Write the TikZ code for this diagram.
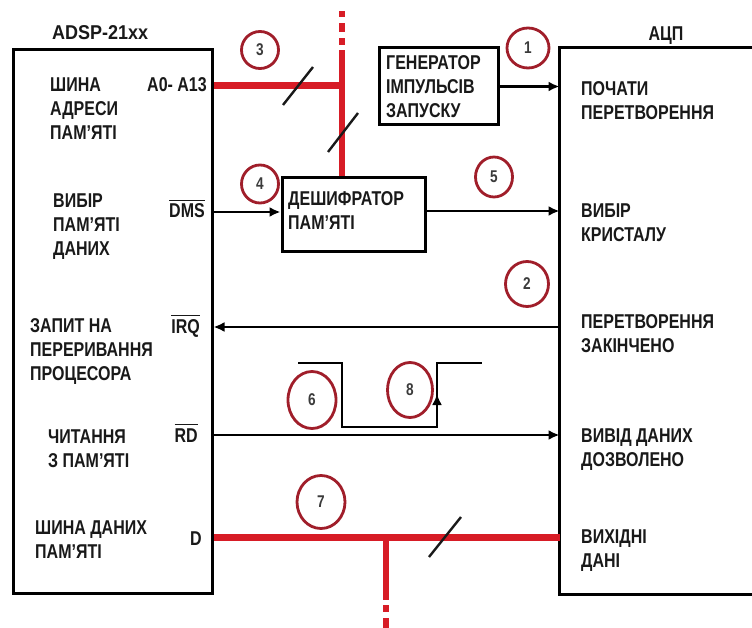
\documentclass[tikz,border=0pt]{standalone}
\usepackage{fontspec}
\setmainfont{Liberation Sans}[FakeStretch=0.8]
\newfontfamily\widelat{Liberation Sans}[FakeStretch=0.9]
\usetikzlibrary{shapes.geometric,arrows.meta}
\definecolor{busred}{RGB}{215,28,38}
\definecolor{ringred}{RGB}{160,30,42}
\definecolor{ink}{RGB}{25,25,25}
\newcommand\myovl[1]{\leavevmode\setbox0=\hbox{#1}\rlap{\raise\dimexpr\ht0+3pt\relax\hbox{\rule{\wd0}{1.3pt}}}\box0}
\begin{document}
\begin{tikzpicture}[x=1pt,y=-1pt,
 lbl/.style={font=\fontsize{20}{24}\selectfont\bfseries, inner sep=0, align=left, text=ink},
 box/.style={draw=black, line width=3pt, inner sep=0},
 arr/.style={draw=black, line width=2.6pt, -{Latex[length=11pt,width=10pt]}},
 bus/.style={draw=busred, line width=7pt},
 vbus/.style={draw=busred, line width=5.5pt},
 ring/.style={ellipse, draw=ringred, line width=2.8pt, inner sep=0, font=\fontsize{17}{17}\selectfont\bfseries, text=ink!85},
 tick/.style={draw=ink, line width=2.4pt},
 wave/.style={draw=black, line width=2.4pt}]
\useasboundingbox[fill=white] (0,0) rectangle (752,628);

% boxes
\node[box, minimum width=199pt, minimum height=543pt] (adsp) at (112.5,321.5) {};
\node[inner sep=0, outer sep=1.5pt, minimum width=191pt, minimum height=544pt] (adc) at (656.5,321) {};
\draw[line width=3pt] (adc.north east) -- (adc.north west) -- (adc.south west) -- (adc.south east);
\node[box, minimum width=119pt, minimum height=77pt] (gen) at (438.5,86.5) {};
\node[box, minimum width=143pt, minimum height=74pt] (dec) at (353.5,215) {};

% pin levels
\coordinate (yA) at (0,86);
\coordinate (yM) at (0,212);
\coordinate (yC) at (0,211);
\coordinate (yI) at (0,327);
\coordinate (yR) at (0,435);
\coordinate (yD) at (0,537);

% buses
\coordinate (ajn) at (342,86);
\coordinate (atopS) at (342,50);
\coordinate (atop) at (342,8);
\draw[bus] (adsp.east |- yA) -- (ajn);
\draw[vbus] (dec.north -| ajn) -- (atopS);
\draw[vbus, dash pattern=on 0pt off 5pt on 7pt off 6pt on 9pt off 6pt on 6pt off 30pt] (atopS) -- (atop);
\coordinate (djn) at (386,537);
\coordinate (dbotS) at (386,600);
\coordinate (dbot) at (386,630);
\draw[bus] (adsp.east |- yD) -- (adc.west |- yD);
\draw[vbus] (djn) -- (dbotS);
\draw[vbus, dash pattern=on 0pt off 5pt on 7pt off 6pt on 20pt] (dbotS) -- (dbot);

% bus ticks
\draw[tick] (283,105) -- (313,67);
\draw[tick] (328,152) -- (358,113);
\draw[tick] (429,557) -- (461,517);

% signal arrows
\draw[arr] (gen.east) -- (gen.east -| adc.west);
\draw[arr] (adsp.east |- yM) -- (dec.west |- yM);
\draw[arr] (dec.east |- yC) -- (adc.west |- yC);
\draw[arr] (adc.west |- yI) -- (adsp.east |- yI);
\draw[arr] (adsp.east |- yR) -- (adc.west |- yR);

% waveform
\coordinate (w0) at (298,363);
\coordinate (w1) at (342,363);
\coordinate (w2) at (342,427);
\coordinate (w3) at (437,427);
\coordinate (w4) at (437,394);
\coordinate (w5) at (437,363);
\coordinate (w6) at (482,363);
\draw[wave] (w0) -- (w1) -- (w2) -- (w3) -- (w5) -- (w6);
\draw[wave, -{Latex[length=11pt,width=10pt]}] (w3) -- (w4);

% rings
\node[ring, minimum width=42pt, minimum height=40pt] (c1) at (528,48) {1};
\node[ring, minimum width=43pt, minimum height=45pt] (c2) at (527,284) {2};
\node[ring, minimum width=37pt, minimum height=37pt] (c3) at (260,50) {3};
\node[ring, minimum width=37pt, minimum height=38pt] (c4) at (260,184) {4};
\node[ring, minimum width=37pt, minimum height=40pt] (c5) at (494,177) {5};
\node[ring, minimum width=48pt, minimum height=57pt] (c6) at (312,400) {6};
\node[ring, minimum width=48pt, minimum height=53pt] (c7) at (321,502) {7};
\node[ring, minimum width=45pt, minimum height=55pt] (c8) at (410,390) {8};

% titles
\node[lbl, anchor=base west] (tAdsp) at (52,40) {\widelat ADSP-21xx};
\node[lbl, anchor=base] (tAdc) at (666,41) {АЦП};

% left box labels (anchor = baseline of last line)
\node[lbl, anchor=base west] (l1) at (50,140) {ШИНА\\АДРЕСИ\\ПАМ'ЯТІ};
\node[lbl, anchor=base east] (p1) at (207,92) {A0- A13};
\node[lbl, anchor=base west] (l2) at (53,256) {ВИБІР\\ПАМ'ЯТІ\\ДАНИХ};
\node[lbl, anchor=base east] (p2) at (205,218) {\myovl{DMS}};
\node[lbl, anchor=base west] (l3) at (30,380) {ЗАПИТ НА\\ПЕРЕРИВАННЯ\\ПРОЦЕСОРА};
\node[lbl, anchor=base east] (p3) at (200,333) {\myovl{IRQ}};
\node[lbl, anchor=base west] (l4) at (48,467) {ЧИТАННЯ\\З ПАМ'ЯТІ};
\node[lbl, anchor=base east] (p4) at (198,442) {\myovl{RD}};
\node[lbl, anchor=base west] (l5) at (35,558) {ШИНА ДАНИХ\\ПАМ'ЯТІ};
\node[lbl, anchor=base east] (p5) at (202,545) {D};

% right box labels
\node[lbl, anchor=base west] (r1) at (581,120) {ПОЧАТИ\\ПЕРЕТВОРЕННЯ};
\node[lbl, anchor=base west] (r2) at (581,242) {ВИБІР\\КРИСТАЛУ};
\node[lbl, anchor=base west] (r3) at (581,352) {ПЕРЕТВОРЕННЯ\\ЗАКІНЧЕНО};
\node[lbl, anchor=base west] (r4) at (581,466) {ВИВІД ДАНИХ\\ДОЗВОЛЕНО};
\node[lbl, anchor=base west] (r5) at (581,567) {ВИХІДНІ\\ДАНІ};

% inner box labels
\node[lbl, anchor=base west] (tGen) at (386,118) {ГЕНЕРАТОР\\ІМПУЛЬСІВ\\ЗАПУСКУ};
\node[lbl, anchor=base west] (tDec) at (288,230) {ДЕШИФРАТОР\\ПАМ'ЯТІ};
\end{tikzpicture}
\end{document}
